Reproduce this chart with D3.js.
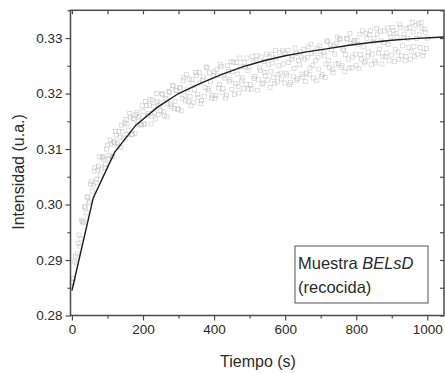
<!DOCTYPE html>
<html>
<head>
<meta charset="utf-8">
<script src="https://cdn.jsdelivr.net/npm/d3@7"></script>
<style>
  html, body { margin: 0; padding: 0; background: #fff; }
  svg { display: block; }
  text { font-family: "Liberation Sans", Arial, sans-serif; fill: #2a2a2a; }
</style>
</head>
<body>
<svg id="chart" width="445" height="373"></svg>
<script>
// Measured intensity, one sample every 5 s from 0 to 1000 s
const sampleStep = 5;
const measuredA = [
  .2860, .2867, .2907, .2911, .2945, .2938, .2969, .2996, .2985, .3014,
  .3005, .3042, .3035, .3067, .3046, .3069, .3052, .3085, .3082, .3072,
  .3107, .3089, .3109, .3086, .3112, .3125, .3105, .3121, .3143, .3120,
  .3118, .3145, .3134, .3158, .3126, .3154, .3162, .3144, .3159, .3143,
  .3168, .3145, .3178, .3164, .3189, .3159, .3177, .3154, .3185, .3178,
  .3169, .3198, .3160, .3190, .3181, .3202, .3176, .3214, .3186, .3205,
  .3171, .3210, .3191, .3228, .3187, .3208, .3226, .3179, .3218, .3207,
  .3233, .3193, .3219, .3187, .3230, .3211, .3246, .3206, .3221, .3196,
  .3239, .3196, .3232, .3216, .3249, .3209, .3228, .3197, .3240, .3225,
  .3207, .3256, .3218, .3235, .3201, .3248, .3228, .3256, .3217, .3242,
  .3248, .3208, .3257, .3231, .3268, .3225, .3241, .3217, .3258, .3232,
  .3224, .3267, .3240, .3255, .3218, .3264, .3234, .3274, .3226, .3253,
  .3273, .3233, .3256, .3220, .3267, .3245, .3272, .3227, .3252, .3266,
  .3230, .3262, .3237, .3284, .3246, .3272, .3228, .3260, .3281, .3244,
  .3276, .3234, .3268, .3253, .3293, .3247, .3279, .3238, .3271, .3290,
  .3254, .3297, .3250, .3278, .3270, .3298, .3246, .3290, .3266, .3296,
  .3250, .3288, .3307, .3262, .3284, .3258, .3299, .3275, .3313, .3271,
  .3299, .3255, .3307, .3280, .3295, .3266, .3313, .3273, .3288, .3308,
  .3269, .3313, .3279, .3302, .3262, .3319, .3286, .3307, .3267, .3299,
  .3319, .3276, .3311, .3267, .3299, .3326, .3283, .3318, .3274, .3310,
  .3300
];
// Interleaved readings, taken 2.5 s after each of the above
const offsetB = 2.5;
const measuredB = [
  .2859, .2898, .2895, .2930, .2925, .2971, .2967, .2994, .3013, .3003,
  .3037, .3024, .3060, .3039, .3062, .3086, .3064, .3087, .3067, .3100,
  .3082, .3116, .3086, .3113, .3132, .3110, .3132, .3103, .3131, .3147,
  .3153, .3126, .3164, .3126, .3155, .3128, .3166, .3156, .3144, .3178,
  .3145, .3186, .3160, .3179, .3145, .3188, .3165, .3200, .3162, .3183,
  .3200, .3167, .3191, .3158, .3204, .3181, .3214, .3173, .3206, .3173,
  .3211, .3169, .3223, .3196, .3234, .3185, .3195, .3225, .3184, .3238,
  .3198, .3238, .3182, .3224, .3195, .3248, .3209, .3237, .3192, .3232,
  .3191, .3243, .3210, .3252, .3202, .3233, .3192, .3250, .3222, .3258,
  .3240, .3198, .3256, .3213, .3264, .3223, .3209, .3248, .3264, .3208,
  .3216, .3267, .3227, .3260, .3206, .3246, .3266, .3219, .3238, .3271,
  .3252, .3211, .3271, .3229, .3278, .3221, .3250, .3237, .3277, .3219,
  .3236, .3278, .3216, .3262, .3231, .3282, .3224, .3260, .3275, .3235,
  .3280, .3222, .3265, .3234, .3289, .3251, .3275, .3223, .3265, .3286,
  .3231, .3274, .3229, .3295, .3259, .3288, .3243, .3286, .3253, .3302,
  .3299, .3247, .3280, .3240, .3299, .3262, .3308, .3247, .3293, .3271,
  .3296, .3245, .3270, .3313, .3255, .3309, .3267, .3306, .3252, .3293,
  .3259, .3317, .3273, .3312, .3253, .3292, .3267, .3318, .3259, .3302,
  .3319, .3258, .3308, .3275, .3324, .3268, .3301, .3259, .3317, .3283,
  .3262, .3328, .3285, .3323, .3271, .3306, .3328, .3268, .3316, .3281
];

// Fitted curve evaluated at 60 s steps
const fitTime  = [0, 60, 120, 180, 240, 300, 360, 420, 480, 540, 600, 660, 720, 780, 840, 900, 960, 1020, 1047];
const fitValue = [.2845, .3012, .3094, .3143, .3175, .3200, .3218, .3234, .3248, .3259, .3268, .3275, .3281, .3287, .3292, .3296, .3299, .3301, .3302];

const xTicks = [0, 200, 400, 600, 800, 1000];
const yTicks = [0.28, 0.29, 0.30, 0.31, 0.32, 0.33];
const xLabel = "Tiempo (s)";
const yLabel = "Intensidad (u.a.)";
const legendLines = [["Muestra ", "BELsD"], ["(recocida)", ""]];

const svg = d3.select("#chart");
const plotL = 70.5, plotR = 444, plotT = 10.3, plotB = 315.5;

const x = d3.scaleLinear().domain([-4, 1047]).range([plotL, plotR]);
const y = d3.scaleLinear().domain([0.28, 0.335]).range([plotB, plotT]);

const axisColor = "#4a4a4a";

// Scatter of measured points: small open squares
const pts = measuredA.map((v, i) => ({ t: i * sampleStep, v }))
  .concat(measuredB.map((v, i) => ({ t: i * sampleStep + offsetB, v })));
const sq = 4;
svg.append("g")
  .selectAll("rect")
  .data(pts)
  .join("rect")
  .attr("x", d => x(d.t) - sq / 2)
  .attr("y", d => y(d.v) - sq / 2)
  .attr("width", sq)
  .attr("height", sq)
  .attr("fill", "none")
  .attr("stroke", "#bcbcbc")
  .attr("stroke-opacity", 0.7)
  .attr("stroke-width", 0.7);

// Fit line
const line = d3.line().x((d, i) => x(fitTime[i])).y(d => y(d));
svg.append("path")
  .attr("d", line(fitValue))
  .attr("fill", "none")
  .attr("stroke", "#1e1e1e")
  .attr("stroke-width", 1.4);

// Axes
function styleAxis(g) {
  g.selectAll(".domain").remove();
  g.selectAll("line").attr("stroke", axisColor).attr("stroke-width", 1.2);
  g.selectAll("text").attr("font-size", "13.5px").attr("fill", "#2a2a2a")
    .attr("font-family", "'Liberation Sans', Arial, sans-serif");
}

// bottom: major ticks with labels, minor ticks between
svg.append("g").attr("transform", `translate(0,${plotB})`)
  .call(d3.axisBottom(x).tickValues(xTicks).tickFormat(d3.format("d")).tickSize(5).tickPadding(4))
  .call(styleAxis);
svg.append("g").attr("transform", `translate(0,${plotB})`)
  .call(d3.axisBottom(x).tickValues(xTicks.slice(0, -1).map(v => v + 100)).tickFormat("").tickSize(3))
  .call(styleAxis);

// left
svg.append("g").attr("transform", `translate(${plotL},0)`)
  .call(d3.axisLeft(y).tickValues(yTicks).tickFormat(d3.format(".2f")).tickSize(5).tickPadding(3))
  .call(styleAxis);
svg.append("g").attr("transform", `translate(${plotL},0)`)
  .call(d3.axisLeft(y).tickValues(yTicks.map(v => v + 0.005)).tickFormat("").tickSize(3))
  .call(styleAxis);

// top and right: inward ticks, no labels
const topTicks = d3.range(0, 1001, 100);
svg.append("g").attr("transform", `translate(0,${plotT})`)
  .call(d3.axisBottom(x).tickValues(topTicks).tickFormat("").tickSize(4))
  .call(styleAxis);
const rightTicks = yTicks.concat(yTicks.map(v => v + 0.005));
svg.append("g").attr("transform", `translate(${plotR},0)`)
  .call(d3.axisLeft(y).tickValues(rightTicks).tickFormat("").tickSize(4))
  .call(styleAxis);

// Frame
svg.append("rect")
  .attr("x", plotL).attr("y", plotT)
  .attr("width", plotR - plotL).attr("height", plotB - plotT)
  .attr("fill", "none").attr("stroke", axisColor).attr("stroke-width", 1.5);

// Axis titles
svg.append("text")
  .attr("x", 258).attr("y", 367)
  .attr("text-anchor", "middle")
  .attr("font-size", "16px")
  .text(xLabel);
svg.append("text")
  .attr("transform", "translate(24,172) rotate(-90)")
  .attr("text-anchor", "middle")
  .attr("font-size", "16px")
  .text(yLabel);

// Legend box
const lg = svg.append("g");
lg.append("rect")
  .attr("x", 295).attr("y", 246)
  .attr("width", 133).attr("height", 57)
  .attr("fill", "#fff")
  .attr("stroke", "#555").attr("stroke-width", 1);
legendLines.forEach((parts, i) => {
  const t = lg.append("text")
    .attr("x", 298).attr("y", 268.5 + i * 24)
    .attr("font-size", "16.5px");
  t.append("tspan").text(parts[0]);
  if (parts[1]) t.append("tspan").attr("font-style", "italic").text(parts[1]);
});
</script>
</body>
</html>
